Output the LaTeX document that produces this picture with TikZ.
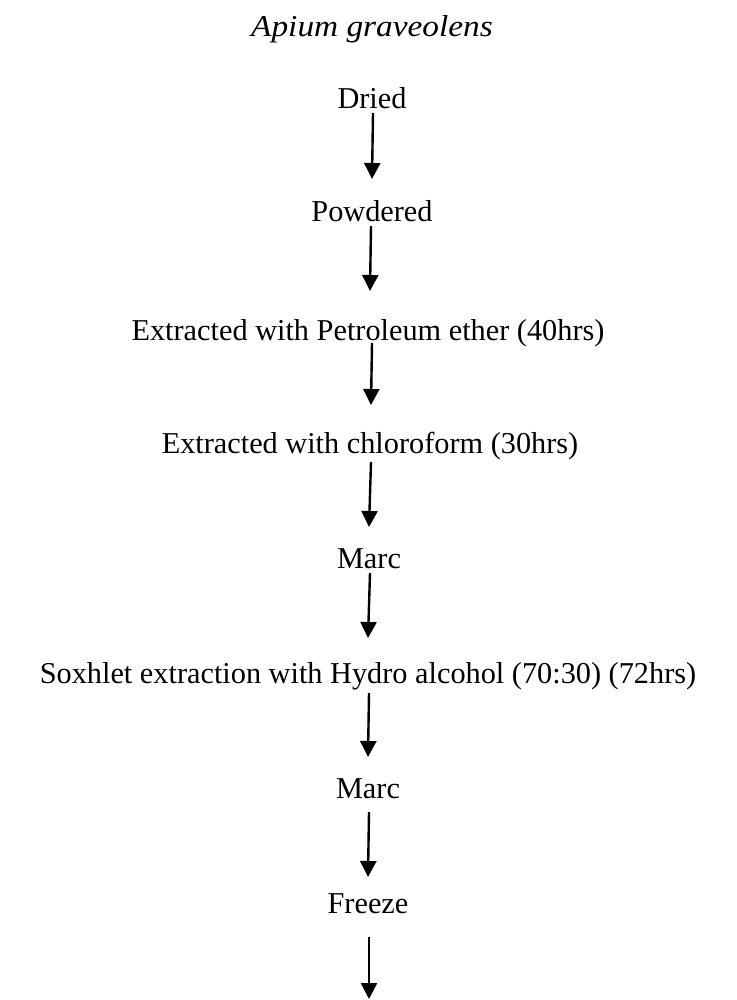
\documentclass[tikz,border=0pt]{standalone}
\usepackage{fontspec}
\setmainfont{Liberation Serif}
\usetikzlibrary{arrows.meta}

\begin{document}
\begin{tikzpicture}[x=1pt,y=-1pt,
    stage/.style={anchor=base,inner sep=0pt,font=\fontsize{30.3}{36}\selectfont},
    flow/.style={-{Triangle[length=16pt,width=16pt]},line width=2.4pt}]
    \useasboundingbox (0,0) rectangle (736,1000);
    \path
    (372,37) node[stage,xscale=1.1,font=\fontsize{30.3}{36}\selectfont\itshape](plant) {Apium graveolens}
    (372,109) node[stage](dried) {Dried}
    (372,222) node[stage](powdered) {Powdered}
    (368,340) node[stage](petether) {Extracted with Petroleum ether (40hrs)}
    (370,453) node[stage](chloro) {Extracted with chloroform (30hrs)}
    (369,568) node[stage](marc1) {Marc}
    (368,683) node[stage](soxhlet) {Soxhlet extraction with Hydro alcohol (70:30) (72hrs)}
    (368,798) node[stage](marc2) {Marc}
    (368,913) node[stage](freeze) {Freeze}
    (369,999) coordinate (end);

    \draw[flow] ([xshift=1pt,yshift=-4pt]dried.base) -- ([xshift=0pt,yshift=43pt]powdered.base);
    \draw[flow] ([xshift=-1pt,yshift=-4pt]powdered.base) -- ([xshift=2pt,yshift=49pt]petether.base);
    \draw[flow] ([xshift=4pt,yshift=-3pt]petether.base) -- ([xshift=1pt,yshift=48pt]chloro.base);
    \draw[flow] ([xshift=1pt,yshift=-9pt]chloro.base) -- ([xshift=0pt,yshift=41pt]marc1.base);
    \draw[flow] ([xshift=1pt,yshift=-5pt]marc1.base) -- ([xshift=0pt,yshift=45pt]soxhlet.base);
    \draw[flow] ([xshift=1pt,yshift=-10pt]soxhlet.base) -- ([xshift=0pt,yshift=41pt]marc2.base);
    \draw[flow] ([xshift=1pt,yshift=-14pt]marc2.base) -- ([xshift=0pt,yshift=36pt]freeze.base);
    \draw[flow] ([xshift=1pt,yshift=-24pt]freeze.base) -- (end);
\end{tikzpicture}
\end{document}
